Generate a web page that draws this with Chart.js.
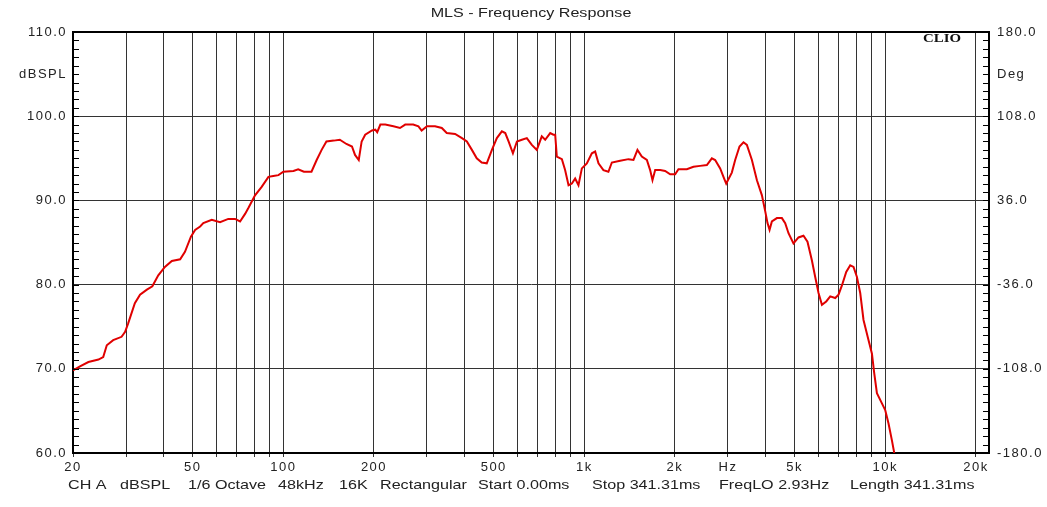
<!DOCTYPE html>
<html>
<head>
<meta charset="utf-8">
<script src="https://cdn.jsdelivr.net/npm/chart.js@4.4.1/dist/chart.umd.min.js"></script>
<style>
html,body{margin:0;padding:0;background:#fff;}
canvas{display:block;}
</style>
</head>
<body>
<canvas id="myChart" width="1047" height="507"></canvas>
<script>
// frequency (Hz) and level (dB SPL)
const freqs = [20,21.1,22.5,24.3,25.2,25.9,27.2,29.0,29.8,30.5,
  32.1,33.4,35.2,36.7,38.4,40.4,42.6,45.4,47.1,49.3,
  50.9,52.9,54.2,57.8,61.6,65.6,69.1,71.8,74.6,76.5,
  80.5,84.7,89.2,92.6,96.3,100,108,112,117,124,
  129,134,139,147,154,162,169,173,178,182,
  187,197,202,205,210,218,232,244,254,270,
  281,288,300,319,336,349,372,392,407,423,
  439,456,474,493,512,532,546,560,579,597,
  620,644,669,695,722,741,770,789,800,810,
  842,863,886,909,932,956,981,1019,1059,1086,
  1114,1157,1202,1234,1315,1401,1456,1501,1552,1613,
  1654,1684,1719,1786,1855,1928,2003,2054,2190,2304,
  2425,2553,2652,2720,2826,2914,2960,3090,3170,3277,
  3378,3467,3603,3744,3890,3990,4060,4124,4198,4362,
  4532,4648,4767,4952,5146,5346,5512,5700,5848,5998,
  6156,6362,6560,6816,6990,7174,7414,7644,7840,8046,
  8252,8462,8794,9026,9184,9376,9742,9990,10246,10516,
  10704];
const splDb = [69.8,70.3,70.8,71.1,71.4,72.8,73.4,73.8,74.4,75.4,
  77.8,78.8,79.4,79.8,81.1,82.1,82.8,83.0,83.9,85.7,
  86.5,86.9,87.3,87.7,87.4,87.8,87.8,87.5,88.4,89.1,
  90.6,91.6,92.8,92.9,93.0,93.4,93.5,93.7,93.4,93.4,
  94.8,96.0,97.0,97.1,97.2,96.7,96.4,95.4,94.8,97.0,
  97.8,98.3,98.4,98.1,99.0,99.0,98.8,98.6,99.0,99.0,
  98.8,98.3,98.8,98.8,98.6,98.0,97.9,97.4,97.0,96.0,
  95.0,94.5,94.4,96.0,97.4,98.2,98.0,97.0,95.6,97.0,
  97.2,97.4,96.6,96.0,97.6,97.2,98.0,97.8,97.8,95.2,
  94.9,93.6,91.8,92.0,92.6,91.8,93.8,94.4,95.6,95.8,
  94.4,93.6,93.4,94.5,94.7,94.9,94.8,96.0,95.2,94.8,
  93.6,92.4,93.6,93.6,93.5,93.1,93.1,93.7,93.7,94.0,
  94.1,94.2,95.0,94.8,93.8,92.6,92.0,93.3,94.8,96.4,
  96.9,96.6,94.8,92.4,90.6,88.7,87.3,86.5,87.5,87.9,
  87.9,87.3,86.1,84.9,85.6,85.8,85.1,82.9,80.9,79.0,
  77.6,78.0,78.6,78.4,78.8,79.9,81.5,82.3,82.1,80.9,
  79.0,75.8,73.4,71.8,69.5,67.1,65.9,65.1,63.5,61.5,
  60.0];

// axis ticks
const xGridValues = [20,30,40,50,60,70,80,90,100,200,300,400,500,600,700,800,900,
  1000,2000,3000,4000,5000,6000,7000,8000,9000,10000,20000];
const xLabelValues = [20,50,100,200,500,1000,2000,3000,5000,10000,20000];
const xLabelNames = ['20','50','100','200','500','1k','2k','Hz','5k','10k','20k'];
const leftTickValues = [60,70,80,90,100,105,110];
const leftTickLabels = ['60.0','70.0','80.0','90.0','100.0','dBSPL','110.0'];
const phaseTickValues = [-180,-108,-36,36,108,144,180];
const phaseTickLabels = ['-180.0','-108.0','-36.0','36.0','108.0','Deg','180.0'];

const titleText = 'MLS - Frequency Response';
const infoParts = ['CH A','dBSPL','1/6 Octave','48kHz','16K','Rectangular','Start 0.00ms','Stop 341.31ms','FreqLO 2.93Hz','Length 341.31ms'];
const infoX = [68,120,188,278,339,380,478,592,719,850];

const tickFont = {family: 'Liberation Sans, Arial, sans-serif', size: 13};
const gridCol = '#333333';

function stretchText(c, txt, x, y, align, font, sx, col) {
  c.save();
  c.font = font;
  c.fillStyle = col;
  c.textAlign = align;
  c.textBaseline = 'middle';
  c.translate(x, y);
  c.scale(sx, 1);
  c.fillText(txt, 0, 0);
  c.restore();
}

const extras = {
  id: 'extras',
  beforeDraw(chart) { chart.ctx.letterSpacing = '1.5px'; },
  afterDraw(chart) {
    const c = chart.ctx, a = chart.chartArea;
    const ys = chart.scales.y, ps = chart.scales.y2;
    c.save();
    c.letterSpacing = '0px';
    c.strokeStyle = '#000';
    c.lineWidth = 1;
    c.beginPath();
    for (let v = 60; v <= 110; v++) {
      const py = Math.round(ys.getPixelForValue(v)) + 0.5;
      c.moveTo(a.left, py); c.lineTo(a.left + 6, py);
    }
    for (let i = 0; i <= 50; i++) {
      const py = Math.round(ps.getPixelForValue(-180 + i * 7.2)) + 0.5;
      c.moveTo(a.right - 6, py); c.lineTo(a.right, py);
    }
    c.stroke();
    stretchText(c, titleText, (a.left + a.right) / 2, 13, 'center', '13px Liberation Sans, Arial, sans-serif', 1.24, '#222');
    infoParts.forEach((t, i) => {
      stretchText(c, t, infoX[i], 485, 'left', '13px Liberation Sans, Arial, sans-serif', 1.24, '#222');
    });
    stretchText(c, 'CLIO', 923, 39, 'left', 'bold 12px Liberation Serif, Times New Roman, serif', 1.24, '#111');
    c.restore();
  }
};

var ctx = document.getElementById('myChart').getContext('2d');
var myChart = new Chart(ctx, {
  type: 'line',
  data: {
    datasets: [{
      label: 'CH A',
      data: freqs.map((f, i) => ({x: f, y: splDb[i]})),
      borderColor: '#e00000',
      borderWidth: 2,
      pointRadius: 0,
      tension: 0,
      fill: false,
      yAxisID: 'y'
    }]
  },
  options: {
    responsive: false,
    animation: false,
    layout: {padding: {top: 32, left: 0, right: 0, bottom: 0}},
    plugins: {legend: {display: false}, tooltip: {enabled: false}},
    scales: {
      x: {
        type: 'logarithmic', position: 'bottom', min: 20, max: 22100,
        afterBuildTicks: s => { s.ticks = xGridValues.map(v => ({value: v})); },
        afterFit: s => { s.height = 54; },
        ticks: {
          autoSkip: false, maxRotation: 0, padding: 3, color: '#222', font: tickFont,
          callback: v => { const i = xLabelValues.indexOf(v); return i < 0 ? '' : xLabelNames[i]; }
        },
        grid: {color: gridCol, lineWidth: 1, drawTicks: true, tickLength: 4},
        border: {color: '#000', width: 2}
      },
      y: {
        type: 'linear', position: 'left', min: 60, max: 110,
        afterBuildTicks: s => { s.ticks = leftTickValues.map(v => ({value: v})); },
        afterFit: s => { s.width = 73; },
        ticks: {
          padding: 6, color: '#222', font: tickFont,
          callback: v => leftTickLabels[leftTickValues.indexOf(v)]
        },
        grid: {
          drawTicks: false,
          color: c => {
            const v = c.tick ? c.tick.value : 0;
            if (v === 110) return '#000';
            if (v === 105 || v === 60) return 'rgba(0,0,0,0)';
            return gridCol;
          },
          lineWidth: c => (c.tick && c.tick.value === 110) ? 2 : 1
        },
        border: {color: '#000', width: 2}
      },
      y2: {
        type: 'linear', position: 'right', min: -180, max: 180,
        afterBuildTicks: s => { s.ticks = phaseTickValues.map(v => ({value: v})); },
        afterFit: s => { s.width = 58; },
        ticks: {
          padding: 8, color: '#222', font: tickFont,
          callback: v => phaseTickLabels[phaseTickValues.indexOf(v)]
        },
        grid: {display: false, drawTicks: false},
        border: {color: '#000', width: 2}
      }
    }
  },
  plugins: [extras]
});
</script>
</body>
</html>
